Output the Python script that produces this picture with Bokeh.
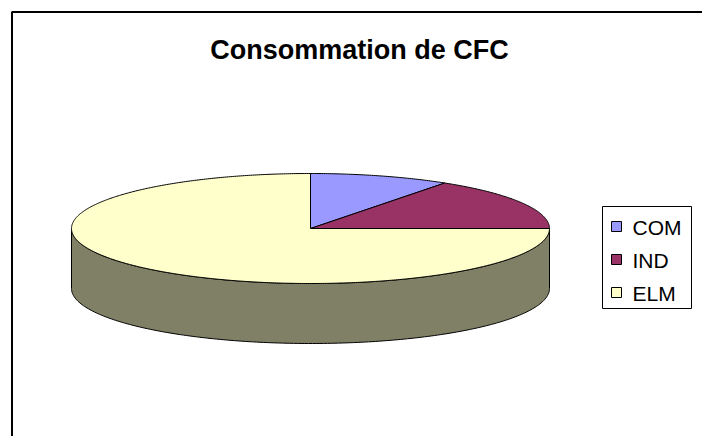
import numpy as np
from bokeh.plotting import figure
from bokeh.models import Range1d
from bokeh.embed import file_html
from bokeh.resources import INLINE
from bokeh.core.properties import value

# ---- data ----
categories = ["COM", "IND", "ELM"]
values = [9.5, 15.5, 75.0]
colors = ["#9999FF", "#993366", "#FFFFCC"]
side_color = "#808066"
title_text = "Consommation de CFC"

# ---- layout (screen-pixel data coordinates) ----
W, H = 702, 436
p = figure(width=W, height=H, output_backend="svg", toolbar_location=None,
           x_range=Range1d(0, W), y_range=Range1d(H, 0),
           x_axis_location=None, y_axis_location=None, min_border=0)
p.grid.visible = False
p.outline_line_color = None
p.background_fill_color = "white"
p.border_fill_color = "white"

# chart border
p.line(x=[11.5, 11.5, 720], y=[440, 11.5, 11.5], line_color="black", line_width=2)

# pie geometry
cx, cy, rx, ry, depth = 310, 228, 239, 55, 60


def ell(t_deg, dy=0.0):
    t = np.radians(t_deg)
    return cx + rx * np.cos(t), cy - ry * np.sin(t) + dy


# side (front half)
ts = np.linspace(180, 360, 200)
tx, ty = ell(ts)
bx, by = ell(ts[::-1], depth)
p.patch(x=np.concatenate([tx, bx]), y=np.concatenate([ty, by]),
        fill_color=side_color, line_color="black", line_width=1)

# top face slices, starting at 12 o'clock, clockwise
total = float(sum(values))
start = 90.0
xs, ys = [], []
for v in values:
    sweep = 360.0 * v / total
    ang = np.linspace(start, start - sweep, max(int(sweep * 2), 4))
    ex, ey = ell(ang)
    xs.append(np.concatenate([[cx], ex, [cx]]).tolist())
    ys.append(np.concatenate([[cy], ey, [cy]]).tolist())
    start -= sweep
p.patches(xs=xs, ys=ys, fill_color=colors, line_color="black", line_width=1)

# title
p.text(x=[359], y=[49], text=[title_text], text_align="center", text_baseline="middle",
       text_font=value("Liberation Sans"), text_font_style="bold",
       text_font_size="27px", text_color="black")

# legend
p.quad(left=[602], right=[691], top=[206], bottom=[308],
       fill_color="white", line_color="black", line_width=1)
ly = [226, 259, 292]
p.rect(x=[616] * 3, y=ly, width=10, height=10, fill_color=colors,
       line_color="black", line_width=1)
p.text(x=[632] * 3, y=[v + 1 for v in ly], text=categories, text_align="left",
       text_baseline="middle", text_font=value("Liberation Sans"),
       text_font_size="21px", text_color="black")

open("out.html", "w").write(file_html(p, INLINE))
